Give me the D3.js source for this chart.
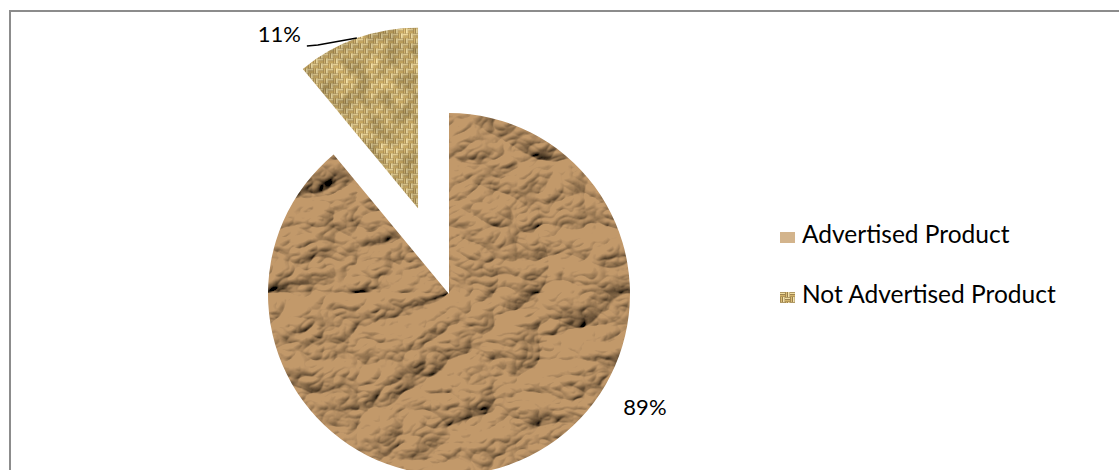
<!DOCTYPE html>
<html>
<head>
<meta charset="utf-8">
<script src="https://cdn.jsdelivr.net/npm/d3@7"></script>
<style>
    html, body { margin: 0; padding: 0; background: #fff; }
    svg { display: block; }
    .label, .legend-text { font-family: Lato, "Open Sans", sans-serif; fill: #000; }
</style>
</head>
<body>
<div id="pie"></div>
<script>
const categories = ["Advertised Product", "Not Advertised Product"];
const shares = [89, 11];
const labels = ["89%", "11%"];

const width = 1119;
const height = 470;
const radius = 181;
const center = { x: 449, y: 294 };
const explode = [0, 91];
const textures = ["url(#crumple)", "url(#grain)"];
const baseFills = ["#b38d62", "url(#burlap)"];

const svg = d3.select("#pie")
    .append("svg")
    .attr("width", width)
    .attr("height", height);

const defs = svg.append("defs");

// crumpled paper: ridged noise lit from the top-left, multiplied onto a tan base
const crumple = defs.append("filter")
    .attr("id", "crumple")
    .attr("filterUnits", "userSpaceOnUse")
    .attr("x", -radius - 10).attr("y", -radius - 10)
    .attr("width", 2 * radius + 20).attr("height", 2 * radius + 20);
crumple.append("feTurbulence")
    .attr("type", "turbulence")
    .attr("baseFrequency", "0.011 0.015")
    .attr("numOctaves", 4)
    .attr("seed", 5)
    .attr("result", "noise");
const light = crumple.append("feDiffuseLighting")
    .attr("in", "noise")
    .attr("surfaceScale", 10)
    .attr("diffuseConstant", 1.35)
    .attr("lighting-color", "#fff")
    .attr("result", "light");
light.append("feDistantLight").attr("azimuth", 235).attr("elevation", 42);
crumple.append("feComposite")
    .attr("in", "light")
    .attr("in2", "SourceGraphic")
    .attr("operator", "arithmetic")
    .attr("k1", 1.2).attr("k2", 0).attr("k3", 0).attr("k4", 0);

// burlap: basket weave tile with light threads over dark gaps
const burlap = defs.append("pattern")
    .attr("id", "burlap")
    .attr("patternUnits", "userSpaceOnUse")
    .attr("width", 10)
    .attr("height", 10);
burlap.append("rect").attr("width", 10).attr("height", 10).attr("fill", "#6f5429");
[[0, 0], [5, 5]].forEach(([x, y]) => {
    burlap.append("rect").attr("x", x).attr("y", y + 0.5).attr("width", 5).attr("height", 1.8).attr("fill", "#f0dda0");
    burlap.append("rect").attr("x", x).attr("y", y + 2.9).attr("width", 5).attr("height", 1.8).attr("fill", "#d2b36a");
});
[[5, 0], [0, 5]].forEach(([x, y]) => {
    burlap.append("rect").attr("x", x + 0.5).attr("y", y).attr("width", 1.8).attr("height", 5).attr("fill", "#d9bc76");
    burlap.append("rect").attr("x", x + 2.9).attr("y", y).attr("width", 1.8).attr("height", 5).attr("fill", "#f3e2aa");
});

// grey grain so the weave is not perfectly regular
const grain = defs.append("filter").attr("id", "grain");
grain.append("feTurbulence")
    .attr("type", "fractalNoise")
    .attr("baseFrequency", 0.06)
    .attr("numOctaves", 2)
    .attr("seed", 3)
    .attr("result", "n");
grain.append("feColorMatrix")
    .attr("in", "n")
    .attr("type", "matrix")
    .attr("values", "1 0 0 0 0  1 0 0 0 0  1 0 0 0 0  0 0 0 0 1")
    .attr("result", "g");
grain.append("feComposite")
    .attr("in", "SourceGraphic")
    .attr("in2", "g")
    .attr("operator", "arithmetic")
    .attr("k1", 0.9).attr("k2", 0.5).attr("k3", 0).attr("k4", 0);

// chart frame (right and bottom edges fall outside the picture)
svg.append("path")
    .attr("d", `M10,${height + 5} V11 H${width + 5}`)
    .attr("fill", "none")
    .attr("stroke", "#8c8c8c")
    .attr("stroke-width", 2);

const pie = d3.pie().sort(null).value(d => d)(shares);
const arc = d3.arc().innerRadius(0).outerRadius(radius);

const polar = (a, r) => [Math.sin(a) * r, -Math.cos(a) * r];

defs.selectAll(".slice-clip")
    .data(pie)
    .join("clipPath")
    .attr("class", "slice-clip")
    .attr("id", (d, i) => `clip-${i}`)
    .append("path")
    .attr("d", arc);

const slices = svg.selectAll(".slice")
    .data(pie)
    .join("g")
    .attr("class", "slice")
    .attr("transform", (d, i) => {
        const mid = (d.startAngle + d.endAngle) / 2;
        const [dx, dy] = polar(mid, explode[i]);
        return `translate(${center.x + dx}, ${center.y + dy})`;
    });

slices.append("g")
    .attr("clip-path", (d, i) => `url(#clip-${i})`)
    .append("rect")
    .attr("x", -radius - 2)
    .attr("y", -radius - 2)
    .attr("width", 2 * radius + 4)
    .attr("height", 2 * radius + 4)
    .attr("fill", (d, i) => baseFills[i])
    .attr("filter", (d, i) => textures[i]);

// data labels
const labelPos = [
    { angle: 120 * Math.PI / 180, r: 1.25 },
    { angle: -38.6 * Math.PI / 180, r: 1.23 }
];
slices.append("text")
    .attr("class", "label")
    .attr("font-size", 22)
    .attr("text-anchor", "middle")
    .attr("x", (d, i) => polar(labelPos[i].angle, radius * labelPos[i].r)[0])
    .attr("y", (d, i) => polar(labelPos[i].angle, radius * labelPos[i].r)[1] + 8)
    .text((d, i) => labels[i]);

// leader line for the small slice
const small = pie[1];
const [mx, my] = polar((small.startAngle + small.endAngle) / 2, radius);
svg.append("path")
    .attr("transform", slices.filter((d, i) => i === 1).attr("transform"))
    .attr("d", d3.line()([[mx, my], [mx - 39, my + 7], [mx - 50, my + 8]]))
    .attr("fill", "none")
    .attr("stroke", "#000")
    .attr("stroke-width", 1.5);

// legend
const swatchFills = ["#d3b48c", "url(#burlap)"];
const legend = svg.selectAll(".legend")
    .data(categories)
    .join("g")
    .attr("class", "legend")
    .attr("transform", (d, i) => `translate(780, ${232 + i * 60})`);
legend.append("rect")
    .attr("width", 15)
    .attr("height", 11)
    .attr("fill", (d, i) => swatchFills[i]);
legend.append("text")
    .attr("class", "legend-text")
    .attr("x", 22)
    .attr("y", 11)
    .attr("font-size", 24.5)
    .text(d => d);
</script>
</body>
</html>
